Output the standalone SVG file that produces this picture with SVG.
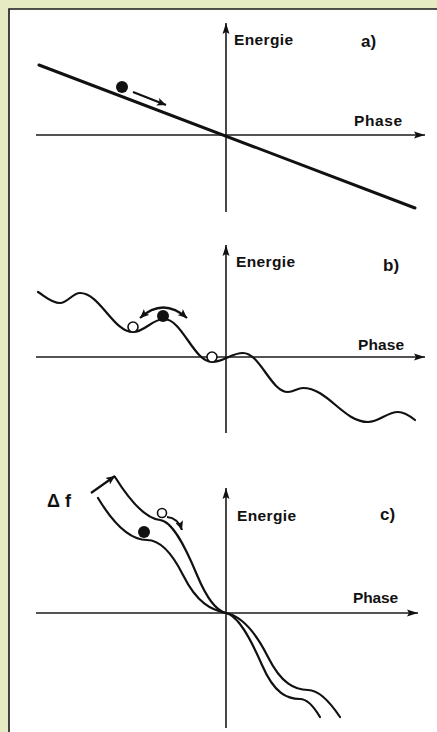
<svg xmlns="http://www.w3.org/2000/svg" width="437" height="732" viewBox="0 0 437 732">
<defs>
<marker id="axh" markerUnits="userSpaceOnUse" markerWidth="12" markerHeight="8" refX="11" refY="4" orient="auto"><path d="M0,0.5 L11,4 L0,7.5 L2,4 z" fill="#111"/></marker>
<marker id="sh" markerUnits="userSpaceOnUse" markerWidth="10" markerHeight="8" refX="9" refY="4" orient="auto-start-reverse"><path d="M0,0 L9,4 L0,8 L2,4 z" fill="#111"/></marker>
<style>
.ax{stroke:#1a1a1a;stroke-width:1.6;fill:none}
.cv{stroke:#111;stroke-width:2.2;fill:none;stroke-linecap:round;stroke-linejoin:round}
.ar{stroke:#111;stroke-width:2.2;fill:none}
.lb{font-family:"Liberation Sans",Arial,sans-serif;font-weight:bold;fill:#111}
.op{fill:#fff;stroke:#111;stroke-width:1.6}
.fl{fill:#111}
</style>
</defs>
<rect x="0" y="0" width="437" height="732" fill="#e6ebc4"/>
<rect x="9" y="9" width="428" height="723" fill="#fff"/>
<path d="M9,732 V9 H437" fill="none" stroke="#1a1a1a" stroke-width="1.6"/>

<g id="panel-a">
<g id="connectors-a">
<line class="ax" x1="36" y1="135" x2="425" y2="135" marker-end="url(#axh)"/>
<line class="ax" x1="226" y1="212" x2="226" y2="23" marker-end="url(#axh)"/>
<line x1="39" y1="65" x2="415" y2="208" stroke="#111" stroke-width="3" stroke-linecap="round"/>
<line class="ar" x1="133" y1="92" x2="166" y2="105" marker-end="url(#sh)"/>
</g>
<g id="ball-a"><circle class="fl" cx="122" cy="87" r="6"/></g>
<text class="lb" x="234" y="45" font-size="15.5" textLength="59">Energie</text>
<text class="lb" x="361" y="47" font-size="17">a)</text>
<text class="lb" x="354" y="126" font-size="15.5" textLength="48">Phase</text>
</g>

<g id="panel-b">
<g id="connectors-b">
<line class="ax" x1="36" y1="357" x2="425" y2="357" marker-end="url(#axh)"/>
<line class="ax" x1="226" y1="433" x2="226" y2="245" marker-end="url(#axh)"/>
<path class="cv" d="M38,292 C45.3,296.4 51.6,303 60,303 C67.6,303 72.4,293 80,293 C100,293 113,332 133,332 C144.8,332 152.2,319 164,319 C182,319 194,362 212,362 C223.8,362 231.2,353 243,353 C260,353 271,392 288,392 C293.7,392 297.3,388 303,388 C327.7,388 343.3,422 368,422 C379.4,422 386.6,412 398,412 C404,412 410,416 415,420"/>
<path class="ar" d="M140,318 Q163,297 187,318" marker-start="url(#sh)" marker-end="url(#sh)"/>
</g>
<g id="ball-b1"><circle class="op" cx="133" cy="327" r="5"/></g>
<g id="ball-b2"><circle class="fl" cx="163" cy="316" r="6"/></g>
<g id="ball-b3"><circle class="op" cx="212" cy="357" r="5"/></g>
<text class="lb" x="236" y="267" font-size="15.5" textLength="59">Energie</text>
<text class="lb" x="383" y="271" font-size="17">b)</text>
<text class="lb" x="358" y="350" font-size="15.5" textLength="46">Phase</text>
</g>

<g id="panel-c">
<g id="connectors-c">
<line class="ax" x1="36" y1="613" x2="418" y2="613" marker-end="url(#axh)"/>
<line class="ax" x1="226" y1="728" x2="226" y2="488" marker-end="url(#axh)"/>
<path class="cv" d="M98,498 C114.3,525.2 130.7,540 147,540 C159,540 171,551 183,575 C197.3,603.7 211.7,610.1 226,613 C238,615.4 250,637.4 262,665 C274.7,694.2 287.3,699 300,699 C306.7,699 313.3,705.7 320,717"/>
<path class="cv" d="M115,477 C130,501 145,518.5 160,520 C172.3,521.2 184.7,545.4 197,575 C206.7,598.2 216.3,611 226,613 C240,615.8 254,629 268,657 C281.3,683.6 294.7,690 308,690 C318.7,690 329.3,701 340,717"/>
<line class="ar" x1="91" y1="493" x2="115" y2="476" marker-end="url(#sh)"/>
<path class="ar" d="M167,517 Q178,518 182,530" marker-end="url(#sh)"/>
</g>
<g id="ball-c1"><circle class="fl" cx="144" cy="532" r="6"/></g>
<g id="ball-c2"><circle class="op" cx="162" cy="513" r="4.5"/></g>
<text class="lb" x="237" y="521" font-size="15.5" textLength="59">Energie</text>
<text class="lb" x="380" y="520" font-size="17">c)</text>
<text class="lb" x="353" y="603" font-size="15.5" textLength="45">Phase</text>
<text class="lb" x="47" y="507" font-size="18">Δ f</text>
</g>
</svg>
